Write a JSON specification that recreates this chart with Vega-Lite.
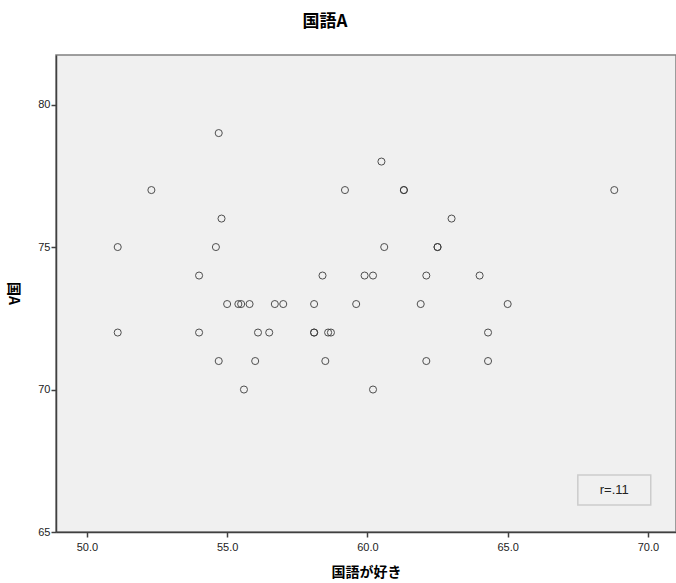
{
  "$schema": "https://vega.github.io/schema/vega-lite/v6.json",
  "width": 620,
  "height": 477,
  "autosize": {"type": "none"},
  "padding": {"left": 56, "top": 55, "right": 0, "bottom": 51},
  "background": "white",
  "title": {
    "text": "国語A",
    "font": "Noto Sans CJK JP",
    "fontSize": 17,
    "fontWeight": "bold",
    "color": "#000000",
    "anchor": "middle",
    "dx": -41,
    "offset": 24
  },
  "config": {
    "view": {"fill": "#f0f0f0", "stroke": "#808080", "strokeWidth": 1.5},
    "axis": {
      "grid": false,
      "domainColor": "#404040",
      "domainWidth": 1.5,
      "tickColor": "#404040",
      "tickWidth": 1.5,
      "tickSize": 5,
      "labelFont": "Liberation Sans",
      "labelFontSize": 11,
      "labelColor": "#222222",
      "titleFont": "Noto Sans CJK JP",
      "titleFontSize": 14,
      "titleFontWeight": "bold",
      "titleColor": "#000000"
    }
  },
  "encoding": {
    "x": {
      "field": "x",
      "type": "quantitative",
      "scale": {"domain": [48.9, 71.0], "nice": false, "zero": false},
      "axis": {
        "title": "国語が好き",
        "values": [50, 55, 60, 65, 70],
        "format": ".1f",
        "labelPadding": 4,
        "titleY": 40,
        "titleBaseline": "middle"
      }
    },
    "y": {
      "field": "y",
      "type": "quantitative",
      "scale": {"domain": [65, 81.74], "nice": false, "zero": false},
      "axis": {
        "title": "国A",
        "values": [65, 70, 75, 80],
        "format": "d",
        "labelPadding": 1,
        "titleAngle": 90,
        "titleX": -44,
        "titleY": 238,
        "titleAlign": "center",
        "titleBaseline": "middle"
      }
    }
  },
  "layer": [
    {
      "data": {
        "values": [
          {"x": 54.7, "y": 79},
          {"x": 60.5, "y": 78},
          {"x": 52.3, "y": 77},
          {"x": 59.2, "y": 77},
          {"x": 61.3, "y": 77},
          {"x": 61.3, "y": 77},
          {"x": 68.8, "y": 77},
          {"x": 54.8, "y": 76},
          {"x": 63.0, "y": 76},
          {"x": 51.1, "y": 75},
          {"x": 54.6, "y": 75},
          {"x": 60.6, "y": 75},
          {"x": 62.5, "y": 75},
          {"x": 62.5, "y": 75},
          {"x": 54.0, "y": 74},
          {"x": 58.4, "y": 74},
          {"x": 59.9, "y": 74},
          {"x": 60.2, "y": 74},
          {"x": 62.1, "y": 74},
          {"x": 64.0, "y": 74},
          {"x": 55.0, "y": 73},
          {"x": 55.4, "y": 73},
          {"x": 55.5, "y": 73},
          {"x": 55.8, "y": 73},
          {"x": 56.7, "y": 73},
          {"x": 57.0, "y": 73},
          {"x": 58.1, "y": 73},
          {"x": 59.6, "y": 73},
          {"x": 61.9, "y": 73},
          {"x": 65.0, "y": 73},
          {"x": 51.1, "y": 72},
          {"x": 54.0, "y": 72},
          {"x": 56.1, "y": 72},
          {"x": 56.5, "y": 72},
          {"x": 58.1, "y": 72},
          {"x": 58.1, "y": 72},
          {"x": 58.6, "y": 72},
          {"x": 58.7, "y": 72},
          {"x": 64.3, "y": 72},
          {"x": 54.7, "y": 71},
          {"x": 56.0, "y": 71},
          {"x": 58.5, "y": 71},
          {"x": 62.1, "y": 71},
          {"x": 64.3, "y": 71},
          {"x": 55.6, "y": 70},
          {"x": 60.2, "y": 70}
        ]
      },
      "mark": {
        "type": "point",
        "shape": "circle",
        "filled": false,
        "size": 50,
        "stroke": "#333333",
        "strokeWidth": 1,
        "opacity": 0.85
      }
    },
    {
      "data": {"values": [{"x": 67.5, "x2": 70.1, "y": 65.95, "y2": 67.0}]},
      "mark": {"type": "rect", "fill": "#f0f0f0", "stroke": "#cccccc", "strokeWidth": 1.5},
      "encoding": {
        "x2": {"field": "x2"},
        "y2": {"field": "y2"}
      }
    },
    {
      "data": {"values": [{"x": 68.8, "y": 66.48, "label": "r=.11"}]},
      "mark": {
        "type": "text",
        "font": "Liberation Sans",
        "fontSize": 13,
        "color": "#222222",
        "align": "center",
        "baseline": "middle"
      },
      "encoding": {"text": {"field": "label"}}
    }
  ]
}
